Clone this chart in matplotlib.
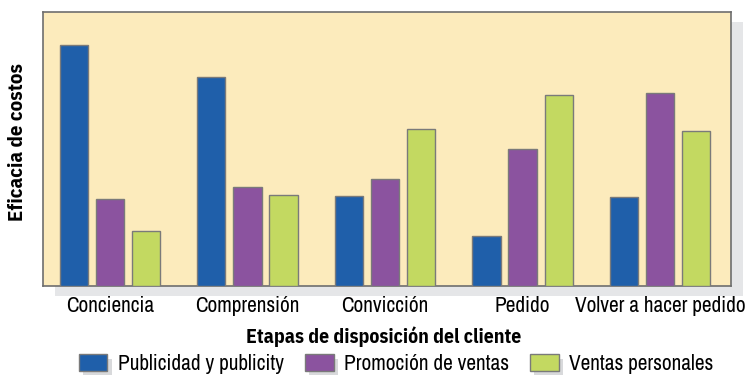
import numpy as np
import matplotlib
matplotlib.use("Agg")
import matplotlib.pyplot as plt
import matplotlib.patheffects as pe
from matplotlib.patches import Rectangle

plt.rcParams['font.family'] = ['Archivo Narrow', 'DejaVu Sans']
negrita = dict(family=['IBM Plex Sans Condensed', 'DejaVu Sans'], fontweight="bold")

# Etapas y eficacia relativa de cada herramienta de promoción
etapas = ["Conciencia", "Comprensión", "Convicción", "Pedido", "Volver a hacer pedido"]
series = ["Publicidad y publicity", "Promoción de ventas", "Ventas personales"]
publicidad = [241, 209, 90, 50, 89]
promocion = [87, 99, 107, 137, 193]
ventas = [55, 91, 157, 191, 155]
colores = ["#1F5FAA", "#8B539F", "#C3D961"]

fig = plt.figure(figsize=(7.45, 3.75), dpi=100)
ax = fig.add_axes([43 / 745, 1 - 286 / 375, 688 / 745, 274 / 375])

# sombra gris detrás del área del gráfico
fig.patches.append(Rectangle((55 / 745, 1 - 296 / 375), 688 / 745, 274 / 375,
                             transform=fig.transFigure, facecolor="#E5E6E8",
                             edgecolor="none", zorder=-5))

ax.set_facecolor("#FCEBBC")
x = np.arange(len(etapas))
ancho = 0.204
desp = 0.262
barras = []
for i, (vals, col) in enumerate(zip([publicidad, promocion, ventas], colores)):
    b = ax.bar(x + (i - 1) * desp, vals, ancho, color=col, edgecolor="#7A7A7A",
               linewidth=1.0, label=series[i], zorder=3)
    barras.append(b)

ax.set_xlim(-0.487, 4.516)
ax.set_ylim(0, 274)
ax.set_yticks([])
ax.set_xticks(x)
ax.set_xticklabels(etapas, fontsize=15.3)
ax.tick_params(axis="x", length=0, pad=7.5)
for s in ax.spines.values():
    s.set_color("#6E6E6E")
    s.set_linewidth(1.2)

ax.set_ylabel("Eficacia de costos", fontsize=15, va="center", **negrita)
ax.yaxis.set_label_coords(-0.0365, 0.524)
fig.text(384 / 745, 1 - 337 / 375, "Etapas de disposición del cliente",
         ha="center", va="center", fontsize=14.2, **negrita)

leg = fig.legend(handles=[b[0] for b in barras], labels=series, loc="center",
                 bbox_to_anchor=(396 / 745, 1 - 364 / 375), ncol=3, frameon=False,
                 fontsize=15.3, handlelength=1.35, handleheight=0.8,
                 handletextpad=0.48, columnspacing=1.0, borderpad=0, borderaxespad=0)
for h in leg.legend_handles:
    h.set_path_effects([pe.SimplePatchShadow(offset=(3, -3), shadow_rgbFace="#D8D9DB",
                                             alpha=1.0), pe.Normal()])

fig.savefig("out.png", dpi=100)
